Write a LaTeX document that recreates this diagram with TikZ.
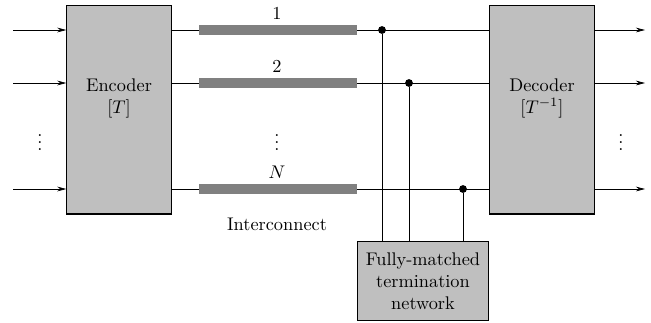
\documentclass[tikz,border=0pt]{standalone}
\usepackage{amsmath}
\usetikzlibrary{arrows.meta}

\begin{document}
\begin{tikzpicture}
  [x=0.0192cm,y=-0.0192cm,
   block/.style={rectangle, draw, semithick, fill=lightgray, inner sep=0pt},
   bus/.style={draw=gray, line width=5.5pt},
   wire/.style={draw, thin},
   arr/.style={wire, -{Stealth[length=5pt,width=2.6pt]}},
   junc/.style={circle, fill, inner sep=0pt, minimum size=0.15cm}]
  \useasboundingbox (0,0) rectangle (651,322);

  \node[block, minimum width=2cm, minimum height=4.01cm] (enc) at (119,109.5) {};
  \node[align=center] (enctxt) at (119,98) {Encoder\\$[T]$};
  \node[block, minimum width=2cm, minimum height=4.01cm] (dec) at (542,109.5) {};
  \node[align=center] (dectxt) at (542,98) {Decoder\\$[T^{-1}]$};
  \node[block, minimum width=2.5cm, minimum height=1.5cm, align=center] (term) at (423,281)
    {Fully-matched\\termination\\network};

  % the three lines
  \foreach \i/\y in {1/30, 2/83, 3/189} {
    \coordinate (in\i) at (13,\y);
    \coordinate (b\i) at (199,\y);
    \coordinate (e\i) at (357,\y);
    \coordinate (out\i) at (645,\y);
  }
  \node[junc] (j1) at (382,30) {};
  \node[junc] (j2) at (409,83) {};
  \node[junc] (j3) at (463,189) {};

  \node (l1) at (277,13) {1};
  \node (l2) at (277,66) {2};
  \node (l3) at (277,172) {$N$};
  \node (vd1) at (40,137) {$\vdots$};
  \node (vd2) at (277,137) {$\vdots$};
  \node (vd3) at (621,137) {$\vdots$};
  \node (icon) at (277,224) {Interconnect};

  \foreach \i in {1,2,3} {
    \draw[arr] (in\i) -- (enc.west |- in\i);
    \draw[wire] (enc.east |- b\i) -- (b\i);
    \draw[bus] (b\i) -- (e\i);
    \draw[wire] (e\i) -- (dec.west |- e\i);
    \draw[arr] (dec.east |- out\i) -- (out\i);
    \draw[wire] (j\i) -- (j\i |- term.north);
  }
\end{tikzpicture}
\end{document}
